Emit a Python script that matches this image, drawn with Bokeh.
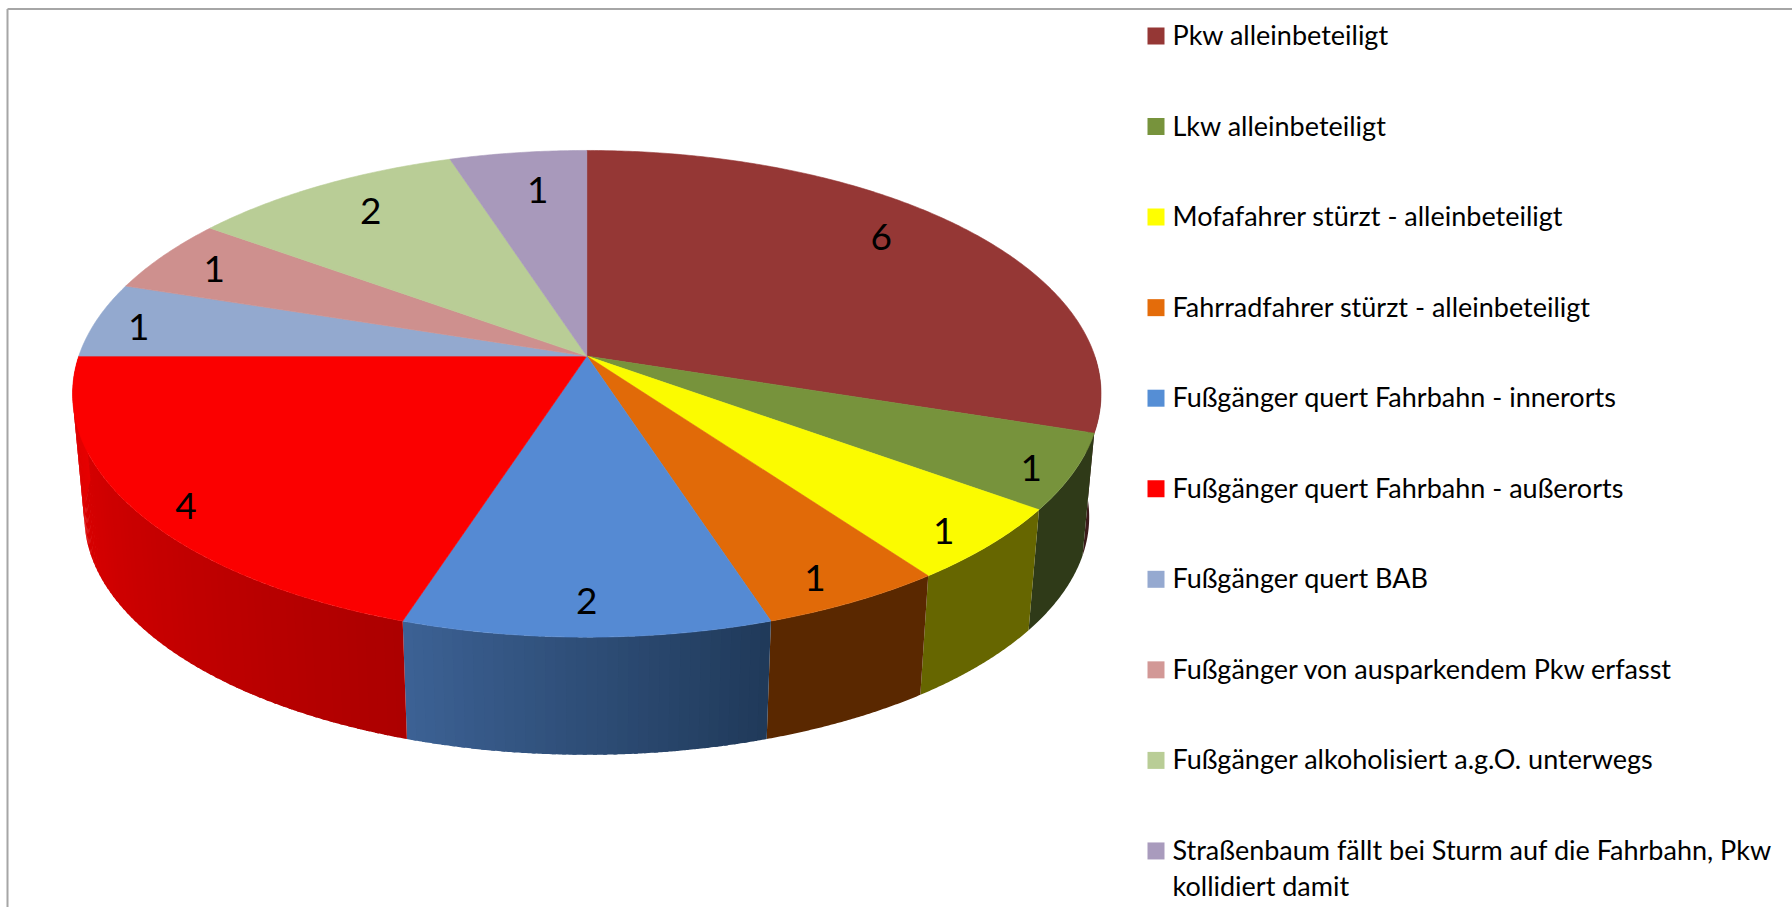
import math
from bokeh.plotting import figure
from bokeh.models import Range1d
from bokeh.core.properties import value
from bokeh.embed import file_html
from bokeh.resources import INLINE

categories = [
    "Pkw alleinbeteiligt",
    "Lkw alleinbeteiligt",
    "Mofafahrer stürzt - alleinbeteiligt",
    "Fahrradfahrer stürzt - alleinbeteiligt",
    "Fußgänger quert Fahrbahn - innerorts",
    "Fußgänger quert Fahrbahn - außerorts",
    "Fußgänger quert BAB",
    "Fußgänger von ausparkendem Pkw erfasst",
    "Fußgänger alkoholisiert a.g.O. unterwegs",
    "Straßenbaum fällt bei Sturm auf die Fahrbahn, Pkw\nkollidiert damit",
]
counts = [6, 1, 1, 1, 2, 4, 1, 1, 2, 1]

top_colors = ["#953735", "#77933c", "#fbfb00", "#e16a08", "#558ad3",
              "#fb0000", "#93a9cf", "#ce908e", "#b9cd96", "#a899bb"]
legend_colors = ["#953735", "#77933c", "#ffff00", "#e46c0a", "#558ed5",
                 "#ff0000", "#95a9d0", "#d29896", "#b9cd96", "#a99bbd"]
# side wall shade at the start and at the end of each visible slice (clockwise)
side_from = ["#3c1a1a", "#2f3a18", "#666600", "#5a2800", "#203a5a",
             "#ac0000", None, None, None, None]
side_to = ["#3c1a1a", "#2f3a18", "#666600", "#5a2800", "#3c6194",
           "#e60000", None, None, None, None]
# where the value label sits: fraction of the radius, and turn from the mid-angle
label_radius = [0.83, 0.926, 0.913, 0.905, 0.89, 0.92, 0.907, 0.869, 0.823, 0.79]
label_turn = [-4.8, 1.3, 1.3, 1.3, 0, -2.6, -1.2, -0.5, 1.2, 1.1]

# perspective model of the disc, in page pixels
CX, CY, RX, RY, K = 586.3, 355.6, 508.0, 237.5, 0.155
BOTTOM_CY, BOTTOM_SCALE = 479.7, 0.977


def project(theta_deg, r=1.0, cy=CY, s=1.0):
    t = math.radians(theta_deg)
    u, v = r * math.sin(t), r * math.cos(t)
    w = 1 + K * v
    return CX + s * RX * u / w, cy - s * RY * v / w


def arc(a, b, step=0.5):
    n = max(2, int(round((b - a) / step)) + 1)
    return [a + (b - a) * i / (n - 1) for i in range(n)]


def mix(c1, c2, f):
    p1 = [int(c1[i:i + 2], 16) for i in (1, 3, 5)]
    p2 = [int(c2[i:i + 2], 16) for i in (1, 3, 5)]
    return "#%02x%02x%02x" % tuple(round(x + (y - x) * f) for x, y in zip(p1, p2))


p = figure(width=1792, height=907, output_backend="svg", toolbar_location=None,
           x_range=Range1d(0, 1792), y_range=Range1d(907, 0),
           min_border=0, outline_line_color=None, background_fill_color="white")
p.axis.visible = False
p.grid.visible = False

total = sum(counts)
edges = [0.0]
for c in counts:
    edges.append(edges[-1] + 360.0 * c / total)

# side walls: each gradient slice is painted as narrow overlapping strips
xs, ys, cols = [], [], []
for i in range(len(counts)):
    if side_from[i] is None:
        continue
    a, b = max(edges[i], 90.0), edges[i + 1]
    band = 1.0 if side_from[i] != side_to[i] else (b - a)
    th = arc(a, b, band)
    for j in range(len(th) - 1):
        seg = arc(th[j], min(th[j + 1] + 0.4, b), 0.25)
        tx, ty = zip(*[project(t) for t in seg])
        bx, by = zip(*[project(t, cy=BOTTOM_CY, s=BOTTOM_SCALE) for t in seg])
        xs.append(list(tx) + list(bx)[::-1])
        ys.append(list(ty) + list(by)[::-1])
        cols.append(mix(side_from[i], side_to[i], j / max(1, len(th) - 2)))
p.patches(xs, ys, fill_color=cols, line_color=None)

# top surface
xs, ys = [], []
for i in range(len(counts)):
    pts = [(CX, CY)] + [project(t) for t in arc(edges[i], edges[i + 1])]
    xs.append([q[0] for q in pts])
    ys.append([q[1] for q in pts])
p.patches(xs, ys, fill_color=top_colors, line_color=top_colors, line_width=0.6)

# value labels
lx, ly = [], []
for i in range(len(counts)):
    q = project((edges[i] + edges[i + 1]) / 2 + label_turn[i], label_radius[i])
    lx.append(q[0])
    ly.append(q[1])
p.text(lx, ly, text=[str(c) for c in counts], text_font=value("Lato"),
       text_font_size="37px", text_color="#000000",
       text_align="center", text_baseline="middle")

# legend
LEG_Y0, LEG_STEP = 35.5, 90.55
rows = [LEG_Y0 + i * LEG_STEP for i in range(len(categories))]
p.rect([1155.5] * len(rows), rows, width=17, height=17,
       fill_color=legend_colors, line_color=None)
p.text([1172] * len(rows), rows, text=categories, text_font=value("Lato"),
       text_font_size="27px", text_color="#000000", text_align="left",
       text_baseline="top", y_offset=-18, text_line_height=1.1)

# chart frame: only its top and left edges lie inside the window
p.segment([7, 7], [8.5, 8.5], [1792, 7], [8.5, 907], line_color="#a6a6a6", line_width=2)

open("out.html", "w").write(file_html(p, INLINE))
